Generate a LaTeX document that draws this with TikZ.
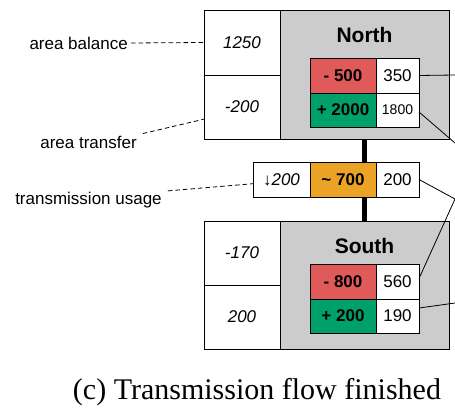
\documentclass[tikz,border=0pt]{standalone}
\usepackage{fontspec}
\setmainfont{Liberation Sans}
\newfontfamily\capfont{Liberation Serif}
\usetikzlibrary{calc}
\definecolor{areagrey}{HTML}{CCCCCC}
\definecolor{cellred}{HTML}{E05A5A}
\definecolor{cellgreen}{HTML}{00A06A}
\definecolor{cellorange}{HTML}{EBA325}

\tikzset{
  cell/.style={draw=black, line width=0.8pt, inner sep=0pt, outer sep=0pt,
    anchor=north west, fill=white, font=\fontsize{17}{20}\selectfont},
  sz/.style 2 args={minimum width=#1pt, minimum height=#2pt},
  greyarea/.style={cell, fill=areagrey},
  negcell/.style={cell, fill=cellred, font=\fontsize{17}{20}\selectfont\bfseries},
  poscell/.style={cell, fill=cellgreen, font=\fontsize{17}{20}\selectfont\bfseries},
  flowcell/.style={cell, fill=cellorange, font=\fontsize{17}{20}\selectfont\bfseries},
  areatitle/.style={font=\fontsize{21}{24}\selectfont\bfseries, inner sep=0pt},
  label/.style={font=\fontsize{17}{20}\selectfont, inner sep=3pt},
  tie/.style={line width=5.5pt, draw=black},
  link/.style={line width=0.8pt, draw=black},
  note/.style={line width=0.8pt, draw=black, dash pattern=on 4.5pt off 3pt},
}

\begin{document}
\begin{tikzpicture}[x=1pt, y=-1pt]
\useasboundingbox (0,0) rectangle (455,414);

% North area
\node[greyarea, sz={169}{129}] (ngrey) at (280,10) {};
\node[cell, sz={76}{65}] (nbal) at (204,10) {\itshape 1250};
\node[cell, sz={76}{64}] (ntr) at (204,75) {\itshape -200};
\node[areatitle] (ntitle) at (364.5,35) {North};
\node[negcell, sz={66}{35}] (nneg) at (310,58) {- 500};
\node[cell, sz={43}{35}] (nnegv) at (376,58) {350};
\node[poscell, sz={66}{34}] (npos) at (310,93) {+ 2000};
\node[cell, sz={43}{34}, font=\fontsize{14}{16}\selectfont] (nposv) at (376,93) {1800};

% Transmission line between the areas
\node[cell, sz={57}{35}] (tu) at (253,162) {↓\itshape 200};
\node[flowcell, sz={66}{35}] (tf) at (310,162) {\textasciitilde\ 700};
\node[cell, sz={43}{35}] (tv) at (376,162) {200};

% South area
\node[greyarea, sz={169}{128}] (sgrey) at (280,221) {};
\node[cell, sz={76}{64}] (sbal) at (204,221) {\itshape -170};
\node[cell, sz={76}{64}] (str) at (204,285) {\itshape 200};
\node[areatitle] (stitle) at (364.5,246) {South};
\node[negcell, sz={66}{35}] (sneg) at (310,264) {- 800};
\node[cell, sz={43}{35}] (snegv) at (376,264) {560};
\node[poscell, sz={66}{34}] (spos) at (310,299) {+ 200};
\node[cell, sz={43}{34}] (sposv) at (376,299) {190};

% thick ties from the areas to the transmission line
\draw[tie] (ngrey.south) -- (ngrey.south |- tf.north);
\draw[tie] (sgrey.north |- tf.south) -- (sgrey.north);

% connectors leaving to the right
\coordinate (e1) at (455,75);
\coordinate (e2) at (455,143);
\coordinate (e3) at (455,199);
\coordinate (e4) at (455,303);
\draw[link] (nnegv.east) -- (e1);
\draw[link] ([yshift=-2pt]nposv.east) -- (e2);
\draw[link] (tv.east) -- (e3);
\draw[link] ([yshift=3pt]snegv.east) -- (e3);
\draw[link] ([yshift=8pt]sposv.east) -- (e4);

% annotations
\node[label, anchor=east] (lbal) at (131,43) {area balance};
\node[label] (ltr) at (88.5,142) {area transfer};
\node[label] (ltu) at (88.5,200) {transmission usage};
\draw[note] (lbal.east) -- (nbal.west);
\draw[note] ([xshift=3pt,yshift=-1pt]ltr.north east) -- ($(ntr.north west)!0.69!(ntr.south west)$);
\draw[note] ([xshift=3pt,yshift=-2pt]ltu.north east) -- ($(tu.north west)!0.62!(tu.south west)$);

% caption
\node[font=\capfont\fontsize{30}{33}\selectfont, inner sep=0pt] (cap) at (257,392) {(c) Transmission flow finished};
\end{tikzpicture}
\end{document}
